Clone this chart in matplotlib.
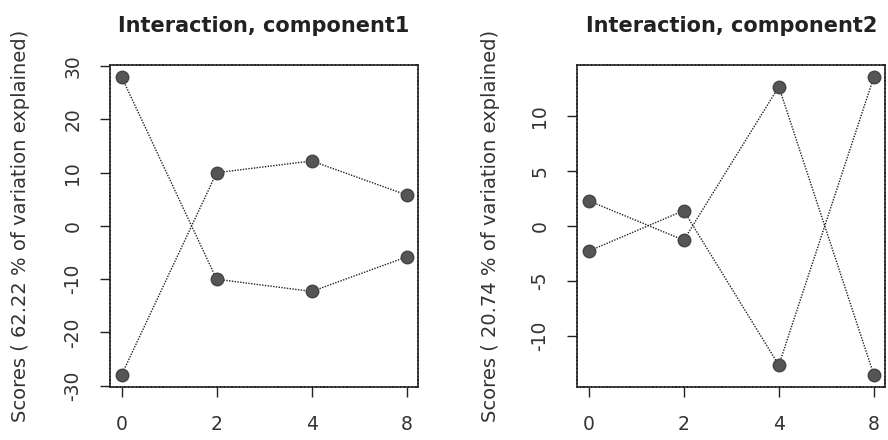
import matplotlib
matplotlib.use("Agg")
import matplotlib.pyplot as plt
import numpy as np

doses = ["0", "2", "4", "8"]

# component 1 scores (two groups)
comp1_a = [28.0, -10.0, -12.3, -5.8]
comp1_b = [-28.0, 10.0, 12.2, 5.8]
# component 2 scores
comp2_a = [2.3, -1.3, 12.7, -13.6]
comp2_b = [-2.3, 1.4, -12.7, 13.6]

titles = ["Interaction, component1", "Interaction, component2"]
ylabels = ["Scores ( 62.22 % of variation explained)",
           "Scores ( 20.74 % of variation explained)"]
yticks = [[-30, -20, -10, 0, 10, 20, 30], [-10, -5, 0, 5, 10]]

plt.rcParams['font.family'] = ['DejaVu Sans']

fig = plt.figure(figsize=(8.88, 4.4), dpi=100)
ax1 = fig.add_axes([0.124, 0.1205, 0.347, 0.732])
ax2 = fig.add_axes([0.650, 0.1205, 0.347, 0.732])

x = np.arange(len(doses))
txt = '#333333'

for ax, a, b, t, yl, yt, lx in [(ax1, comp1_a, comp1_b, titles[0], ylabels[0], yticks[0], -0.29),
                                 (ax2, comp2_a, comp2_b, titles[1], ylabels[1], yticks[1], -0.28)]:
    for s in (a, b):
        ax.plot(x, s, linestyle=(0, (1, 1)), color='#222222', linewidth=1.0,
                marker='o', markersize=9, markerfacecolor='#555555',
                markeredgecolor='#444444', zorder=3)
    lo = min(min(a), min(b))
    hi = max(max(a), max(b))
    pad = (hi - lo) * 0.04
    ax.set_ylim(lo - pad, hi + pad)
    ax.set_xlim(-0.12, 3.12)
    ax.set_xticks(x)
    ax.set_xticklabels(doses)
    ax.set_yticks(yt)
    ax.set_yticklabels([str(v) for v in yt], rotation=90, va='center')
    ax.tick_params(direction='out', length=7, width=1, colors='#222222',
                   labelcolor=txt, labelsize=13.5, pad=13)
    for sp in ax.spines.values():
        sp.set_linewidth(1.2)
        sp.set_linestyle((0, (1.5, 0.8)))
        sp.set_color('#222222')
    ax.set_title(t, fontsize=15, fontweight='bold', color='#222222', pad=24)
    ax.set_ylabel(yl, fontsize=14, color=txt)
    ax.yaxis.label.set_va('center')
    ax.yaxis.set_label_coords(lx, 0.5)

fig.savefig("out.png", dpi=100)
